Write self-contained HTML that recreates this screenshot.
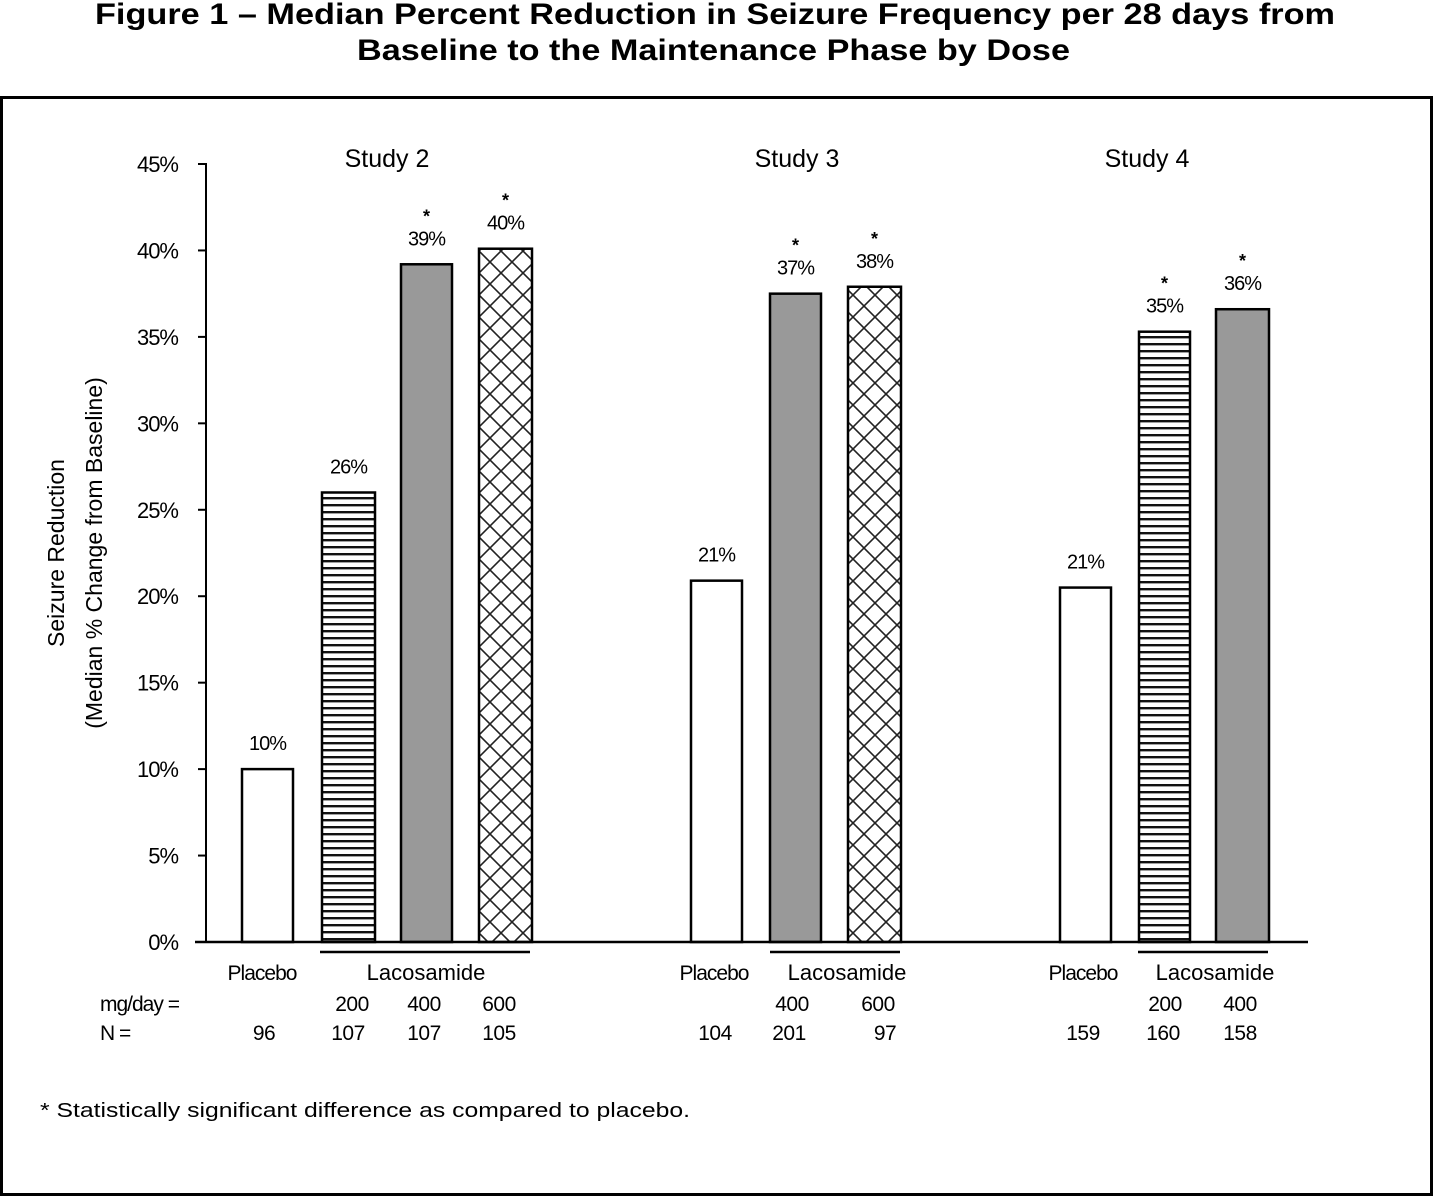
<!DOCTYPE html>
<html><head><meta charset="utf-8"><style>
body{margin:0;background:#fff;width:1434px;height:1197px;overflow:hidden}
svg{display:block;font-family:"Liberation Sans",sans-serif}
</style></head><body>
<svg id="c" width="1434" height="1197" xmlns="http://www.w3.org/2000/svg">
<defs>
<pattern id="hz" width="7" height="7" patternUnits="userSpaceOnUse"><rect width="7" height="7" fill="#fff"/><rect y="0" width="7" height="2.4" fill="#111"/></pattern>
<pattern id="xh" width="22" height="22" patternUnits="userSpaceOnUse" x="479" y="251"><rect width="22" height="22" fill="#fff"/><path d="M0 0L22 22M22 0L0 22" stroke="#222" stroke-width="1.6"/></pattern>
</defs>
<text x="95" y="24" font-size="30" font-weight="bold" textLength="1240" lengthAdjust="spacingAndGlyphs">Figure 1 – Median Percent Reduction in Seizure Frequency per 28 days from</text>
<text x="357" y="60" font-size="30" font-weight="bold" textLength="713" lengthAdjust="spacingAndGlyphs">Baseline to the Maintenance Phase by Dose</text>
<rect x="1.5" y="97.5" width="1430" height="1097" fill="none" stroke="#000" stroke-width="3"/>
<g id="g"></g>
<text x="40" y="1117" font-size="20" textLength="650" lengthAdjust="spacingAndGlyphs">* Statistically significant difference as compared to placebo.</text>
</svg>
<script>
const values=[10,26,39.2,40.1, 20.9,37.5,37.9, 20.5,35.3,36.6];
const printed=["10%","26%","39%","40%","21%","37%","38%","21%","35%","36%"];
const sig=[false,false,true,true,false,true,true,false,true,true];
const fills=["#fff","url(#hz)","#999","url(#xh)","#fff","#999","url(#xh)","#fff","url(#hz)","#999"];
const barX=[242,322,401,479,691,770,848,1060,1139,1216];
const yTicks=[0,5,10,15,20,25,30,35,40,45];
const studies=["Study 2","Study 3","Study 4"];
const studyX=[387,797,1147];
const doses=[["200",352],["400",424],["600",499],["400",792],["600",878],["200",1165],["400",1240]];
const ns=[["96",264],["107",348],["107",424],["105",499],["104",715],["201",789],["97",885],["159",1083],["160",1163],["158",1240]];
const y=v=>942-v*(942-164)/45;
const g=document.getElementById('g');
const NS='http://www.w3.org/2000/svg';
function mk(t,a,txt){const e=document.createElementNS(NS,t);for(const k in a)e.setAttribute(k,a[k]);if(txt!=null)e.textContent=txt;g.appendChild(e);return e;}
let e=mk('line',{x1:206,y1:163,x2:206,y2:942,stroke:'#000','stroke-width':2});


yTicks.forEach(t=>{
 let l=mk('line',{x1:198,x2:206,y1:y(t),y2:y(t),stroke:'#000','stroke-width':2});
 
 
 let tx=mk('text',{x:178,y:y(t)+8,'text-anchor':'end','font-size':22,'letter-spacing':-1},t+'%');
 
 
});
let yt=mk('text',{transform:'translate(64,553) rotate(-90)','text-anchor':'middle','font-size':23},'Seizure Reduction');


let yt2=mk('text',{transform:'translate(102,553) rotate(-90)','text-anchor':'middle','font-size':23},'(Median % Change from Baseline)');


values.forEach((v,i)=>{
 const w=(i==3||i==1||i==6||i==9)?53:51;
 let r=mk('rect',{x:barX[i],y:y(v),width:w,height:942-y(v),fill:fills[i],stroke:'#000','stroke-width':2.5});
 
 
 let t=mk('text',{x:barX[i]+w/2,y:y(v)-19,'text-anchor':'middle','font-size':20,'letter-spacing':-1},printed[i]);
 
 
 if(sig[i]){let s=mk('text',{x:barX[i]+w/2,y:y(v)-42,'text-anchor':'middle','font-size':18,'font-weight':'bold'},'*');
 
 }
});
e=mk('line',{x1:195,y1:942,x2:1308,y2:942,stroke:'#000','stroke-width':2.5});


studies.forEach((s,i)=>{let t=mk('text',{x:studyX[i],y:167,'text-anchor':'middle','font-size':25},s);
 
 });
[[320,530,426],[770,900,847],[1138,1268,1215]].forEach(a=>{
 let l=mk('line',{x1:a[0],x2:a[1],y1:952,y2:952,stroke:'#000','stroke-width':2.5});
 
 
 let t=mk('text',{x:a[2],y:980,'text-anchor':'middle','font-size':22},'Lacosamide');
 
 
});
[262,714,1083].forEach(x=>{let t=mk('text',{x:x,y:980,'text-anchor':'middle','font-size':21,'letter-spacing':-1},'Placebo');
 
 });
let m=mk('text',{x:100,y:1011,'font-size':21,'letter-spacing':-1},'mg/day  =');


m=mk('text',{x:100,y:1040,'font-size':21,'letter-spacing':-1},'N =');


doses.forEach(d=>{let t=mk('text',{x:d[1],y:1011,'text-anchor':'middle','font-size':21,'letter-spacing':-0.5},d[0]);
 
 });
ns.forEach(d=>{let t=mk('text',{x:d[1],y:1040,'text-anchor':'middle','font-size':21,'letter-spacing':-0.5},d[0]);
 
 });
</script>
</body></html>
